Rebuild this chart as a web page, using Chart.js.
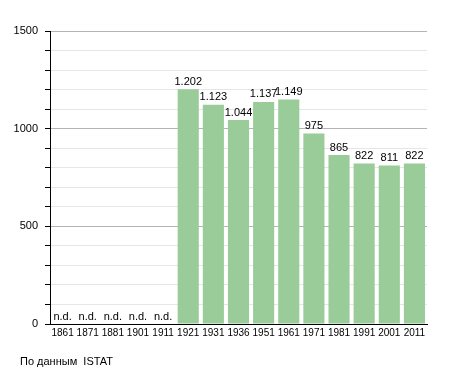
<!DOCTYPE html>
<html>
<head>
<meta charset="utf-8">
<script src="https://cdn.jsdelivr.net/npm/chart.js@4.4.0/dist/chart.umd.min.js"></script>
<style>
  html, body { margin: 0; padding: 0; background: #fff; }
  #wrap { position: relative; width: 455px; height: 373px; }
  #note { position: absolute; left: 20px; top: 355px; font: 11px "Liberation Sans", Arial, sans-serif; color: #000; }
</style>
</head>
<body>
<div id="wrap">
  <canvas id="chart" width="455" height="373"></canvas>
  <div id="note">По данным&nbsp; ISTAT</div>
</div>
<script>
const years = ["1861", "1871", "1881", "1901", "1911", "1921", "1931", "1936", "1951", "1961", "1971", "1981", "1991", "2001", "2011"];
const population = [null, null, null, null, null, 1202, 1123, 1044, 1137, 1149, 975, 865, 822, 811, 822];
const valueLabels = ["n.d.", "n.d.", "n.d.", "n.d.", "n.d.", "1.202", "1.123", "1.044", "1.137", "1.149", "975", "865", "822", "811", "822"];
const yTicks = [0, 500, 1000, 1500];

const FONT = '"Liberation Sans", Arial, sans-serif';

// etichette sopra le barre (o "n.d." in basso)
const barLabels = {
  id: "barLabels",
  afterDatasetsDraw(chart) {
    const ctx = chart.ctx;
    const meta = chart.getDatasetMeta(0);
    const y = chart.scales.y;
    ctx.save();
    ctx.font = "11px " + FONT;
    ctx.fillStyle = "#000";
    ctx.textAlign = "center";
    ctx.textBaseline = "bottom";
    meta.data.forEach((bar, i) => {
      const v = population[i];
      const top = v == null ? y.getPixelForValue(0) - 2 : bar.y - 2;
      ctx.fillText(valueLabels[i], bar.x, top);
    });
    ctx.restore();
  }
};

new Chart(document.getElementById("chart"), {
  type: "bar",
  data: {
    labels: years,
    datasets: [{
      data: population,
      backgroundColor: "#99cc99",
      barPercentage: 0.84,
      categoryPercentage: 1
    }]
  },
  options: {
    responsive: false,
    animation: false,
    layout: { padding: { left: 0, right: 28, top: 31, bottom: 29 } },
    plugins: { legend: { display: false }, tooltip: { enabled: false } },
    scales: {
      x: {
        grid: { display: false, drawTicks: false },
        border: { color: "#000", width: 1 },
        ticks: { color: "#000", font: { family: FONT, size: 10 }, padding: 3, maxRotation: 0, autoSkip: false },
        afterFit(s) { s.height = 20; }
      },
      y: {
        min: 0,
        max: 1500,
        grid: {
          color: c => (c.tick && c.tick.value % 500 === 0 ? "#b4b4b4" : "#e6e6e6"),
          tickColor: "#000",
          tickLength: 5,
          drawOnChartArea: true
        },
        border: { color: "#000", width: 1 },
        ticks: {
          stepSize: 100,
          color: "#000",
          font: { family: FONT, size: 11 },
          padding: 7,
          callback: v => (yTicks.includes(v) ? String(v) : "")
        },
        afterFit(s) { s.width = 50; }
      }
    }
  },
  plugins: [barLabels]
});
</script>
</body>
</html>
